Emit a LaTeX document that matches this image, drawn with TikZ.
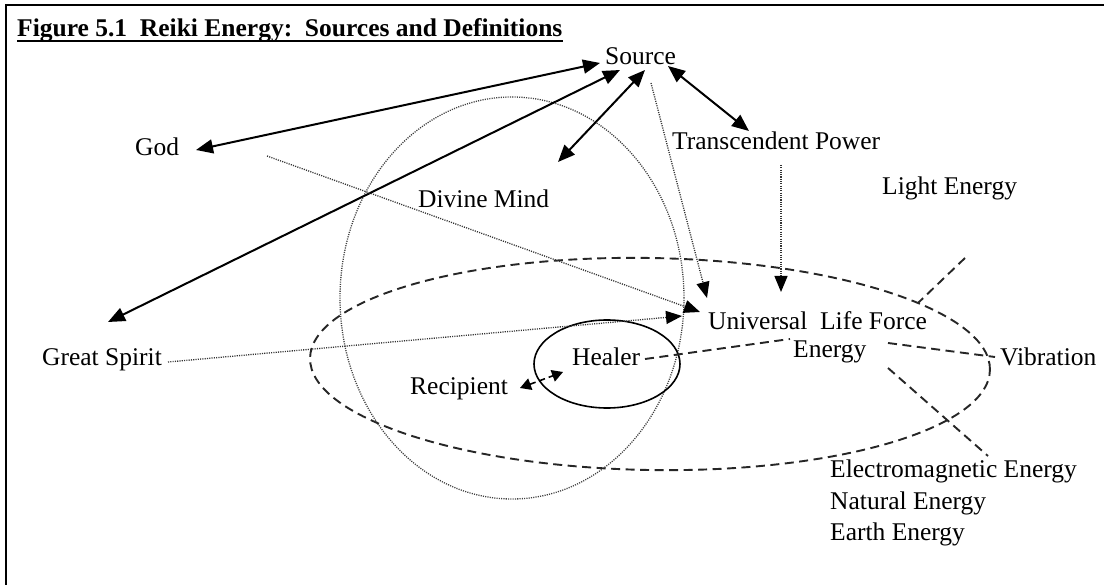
\documentclass[tikz,border=0pt]{standalone}
\usepackage{fontspec}
\setmainfont{Liberation Serif}
\usetikzlibrary{arrows.meta}
\begin{document}
\begin{tikzpicture}[x=1pt,y=-1pt,
  lbl/.style={inner sep=0pt, anchor=base west, font=\fontsize{25.5}{30}\selectfont},
  solidarrow/.style={line width=2pt, {Triangle[length=17pt,width=14pt]}-{Triangle[length=17pt,width=14pt]}},
  dotarrow/.style={line width=1.3pt, draw=black!80, dash pattern=on 1.1pt off 1.2pt, -{Triangle[length=16pt,width=13pt,color=black]}},
  dashline/.style={line width=1.9pt, draw=black!85, dash pattern=on 9pt off 5.5pt},
  dotellipse/.style={line width=1.3pt, draw=black!75, dash pattern=on 1.1pt off 1.2pt},
]
\useasboundingbox (0,0) rectangle (1104,585);
\fill[white] (0,0) rectangle (1104,585);
\draw[line width=2pt] (6,585) -- (6,5) -- (1104,5);

% ellipses
\draw[dotellipse] (512,298) ellipse [x radius=172pt, y radius=201pt];
\draw[dashline] (650,364) ellipse [x radius=340pt, y radius=106pt, rotate=-1];
\draw[line width=1.6pt] (607,364) ellipse [x radius=73pt, y radius=44pt];

% labels
\node[lbl, font=\bfseries\fontsize{25.5}{30}\selectfont] (title) at (17,37) {Figure 5.1\ \ Reiki Energy:\ \ Sources and Definitions};
\draw[line width=1.5pt] ([yshift=-4pt]title.base west) -- ([yshift=-4pt]title.base east);
\node[lbl] (source) at (605,65) {Source};
\node[lbl] (god) at (135,156) {God};
\node[lbl] (tp) at (672,150) {Transcendent Power};
\node[lbl] (dm) at (418,208) {Divine Mind};
\node[lbl] (light) at (882,195) {Light Energy};
\node[lbl] (gs) at (42,366) {Great Spirit};
\node[lbl] (ulf) at (708,330) {Universal\ \ Life Force};
\node[lbl] (energy) at (793,358) {Energy};
\node[lbl] (healer) at (572,366) {Healer};
\node[lbl] (recip) at (410,395) {Recipient};
\node[lbl] (vib) at (1000,366) {Vibration};
\node[lbl] (em) at (830,478) {Electromagnetic Energy};
\node[lbl] (nat) at (830,509) {Natural Energy};
\node[lbl] (earth) at (830,540) {Earth Energy};

% connector end points
\coordinate (sgod) at (600,63);  \coordinate (godt) at (196,150);
\coordinate (sgs) at (620,70);   \coordinate (gst) at (108,322);
\coordinate (sdm) at (645,70);   \coordinate (dmt) at (558,162);
\coordinate (stp) at (668,66);   \coordinate (tpt) at (749,131);
\coordinate (gods) at (267,156); \coordinate (ulfa) at (700,312);
\coordinate (gss) at (168,362);  \coordinate (ulfb) at (682,316);
\coordinate (srcs) at (651,83);  \coordinate (ulfc) at (707,298);
\coordinate (tps) at (781,165);  \coordinate (ent) at (781,292);
\coordinate (rect) at (520,388); \coordinate (heat) at (563,372);
\coordinate (heae) at (645,359); \coordinate (enw) at (790,339);
\coordinate (ulfe) at (888,343); \coordinate (vibw) at (995,357);
\coordinate (lights) at (965,258); \coordinate (lighte) at (918,303);
\coordinate (ene) at (888,368);  \coordinate (emn) at (988,456);

% solid arrows
\draw[solidarrow] (godt) -- (sgod);
\draw[solidarrow] (gst) -- (sgs);
\draw[solidarrow] (dmt) -- (sdm);
\draw[solidarrow] (tpt) -- (stp);

% dotted arrows
\draw[dotarrow] (gods) -- (ulfa);
\draw[dotarrow] (gss) -- (ulfb);
\draw[dotarrow] (srcs) -- (ulfc);
\draw[dotarrow] (tps) -- (ent);

% dashed lines
\draw[line width=1.6pt, dash pattern=on 6pt off 4pt, {Triangle[length=11pt,width=12pt]}-{Triangle[length=11pt,width=12pt]}] (rect) -- (heat);
\draw[dashline] (heae) -- (enw);
\draw[dashline] (ulfe) -- (vibw);
\draw[dashline] (lights) -- (lighte);
\draw[dashline] (ene) -- (emn);
\end{tikzpicture}
\end{document}
